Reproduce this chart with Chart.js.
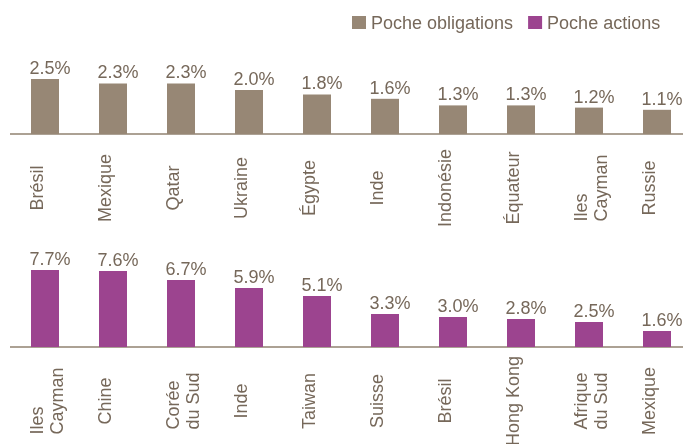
<!DOCTYPE html>
<html lang="fr">
<head>
<meta charset="utf-8">
<title>Poches obligations / actions</title>
<script src="https://cdn.jsdelivr.net/npm/chart.js@4/dist/chart.umd.min.js"></script>
<style>
  html, body { margin: 0; padding: 0; background: #fff; }
  #wrap { position: relative; width: 683px; height: 444px; overflow: hidden; }
  #wrap canvas { position: absolute; left: 0; }
  #top { top: 0; }
  #bottom { top: 230px; }
</style>
</head>
<body>
<div id="wrap">
  <canvas id="top" width="700" height="230"></canvas>
  <canvas id="bottom" width="700" height="214"></canvas>
</div>
<script>
/* ===== Principales expositions pays : poche obligations / poche actions ===== */
var bondCountries = ["Brésil", "Mexique", "Qatar", "Ukraine", "Égypte", "Inde", "Indonésie", "Équateur", ["Iles", "Cayman"], "Russie"];
var bondValues = [2.5, 2.3, 2.3, 2.0, 1.8, 1.6, 1.3, 1.3, 1.2, 1.1];
var equityCountries = [["Iles", "Cayman"], "Chine", ["Corée", "du Sud"], "Inde", "Taiwan", "Suisse", "Brésil", "Hong Kong", ["Afrique", "du Sud"], "Mexique"];
var equityValues = [7.7, 7.6, 6.7, 5.9, 5.1, 3.3, 3.0, 2.8, 2.5, 1.6];
var seriesNames = ["Poche obligations", "Poche actions"];
var seriesColors = ["#978775", "#9c448f"];

(function () {
  "use strict";
  var TXT = "#76685a", AXIS = "#aca194";
  var FONT = "18px 'Liberation Sans', Arial, sans-serif";

  // étiquettes : valeurs au-dessus des barres + pays verticaux sous l'axe
  var labelsPlugin = {
    id: "barLabels",
    afterDatasetsDraw: function (chart) {
      var ctx = chart.ctx, meta = chart.getDatasetMeta(0);
      var ds = chart.data.datasets[0];
      var base = chart.chartArea.bottom;
      ctx.save();
      ctx.font = FONT;
      ctx.fillStyle = TXT;
      meta.data.forEach(function (bar, i) {
        ctx.textAlign = "center";
        ctx.textBaseline = "alphabetic";
        ctx.fillText(ds.data[i].toFixed(1) + "%", bar.x + 5, bar.y - 5);
        var lab = chart.data.labels[i];
        var lines = Array.isArray(lab) ? lab : [lab];
        var w = 0;
        lines.forEach(function (l) { w = Math.max(w, ctx.measureText(l).width); });
        var cy = base + 54;
        lines.forEach(function (l, k) {
          ctx.save();
          ctx.translate(bar.x - 2.5 + k * 20, cy + w / 2);
          ctx.rotate(-Math.PI / 2);
          ctx.textAlign = "left";
          ctx.fillText(l, 0, 0);
          ctx.restore();
        });
      });
      if (chart.options.showLegend) drawLegend(ctx);
      ctx.restore();
    }
  };

  function drawLegend(ctx) {
    var x = 352;
    seriesNames.forEach(function (name, i) {
      ctx.fillStyle = seriesColors[i];
      ctx.fillRect(x, 16, 14, 13);
      ctx.fillStyle = TXT;
      ctx.textAlign = "left";
      ctx.fillText(name, x + 19, 28.5);
      x += 19 + ctx.measureText(name).width + 15;
    });
  }

  function makeChart(id, labels, values, color, max, pad, legend) {
    return new Chart(document.getElementById(id), {
      type: "bar",
      data: { labels: labels, datasets: [{ label: legend ? seriesNames[0] : seriesNames[1], data: values, backgroundColor: color, barPercentage: 28 / 68, categoryPercentage: 1 }] },
      options: {
        responsive: false, animation: false, showLegend: legend,
        layout: { padding: pad },
        plugins: { legend: { display: false }, tooltip: { enabled: false } },
        scales: {
          x: { grid: { display: false, drawTicks: false }, ticks: { display: false }, border: { display: true, color: AXIS, width: 2 } },
          y: { display: false, min: 0, max: max }
        }
      },
      plugins: [labelsPlugin]
    });
  }

  makeChart("top", bondCountries, bondValues, seriesColors[0], 5, { left: 11, right: 9, top: 24, bottom: 96 }, true);
  makeChart("bottom", equityCountries, equityValues, seriesColors[1], 10, { left: 11, right: 9, top: 17, bottom: 97 }, false);
})();
</script>
</body>
</html>
